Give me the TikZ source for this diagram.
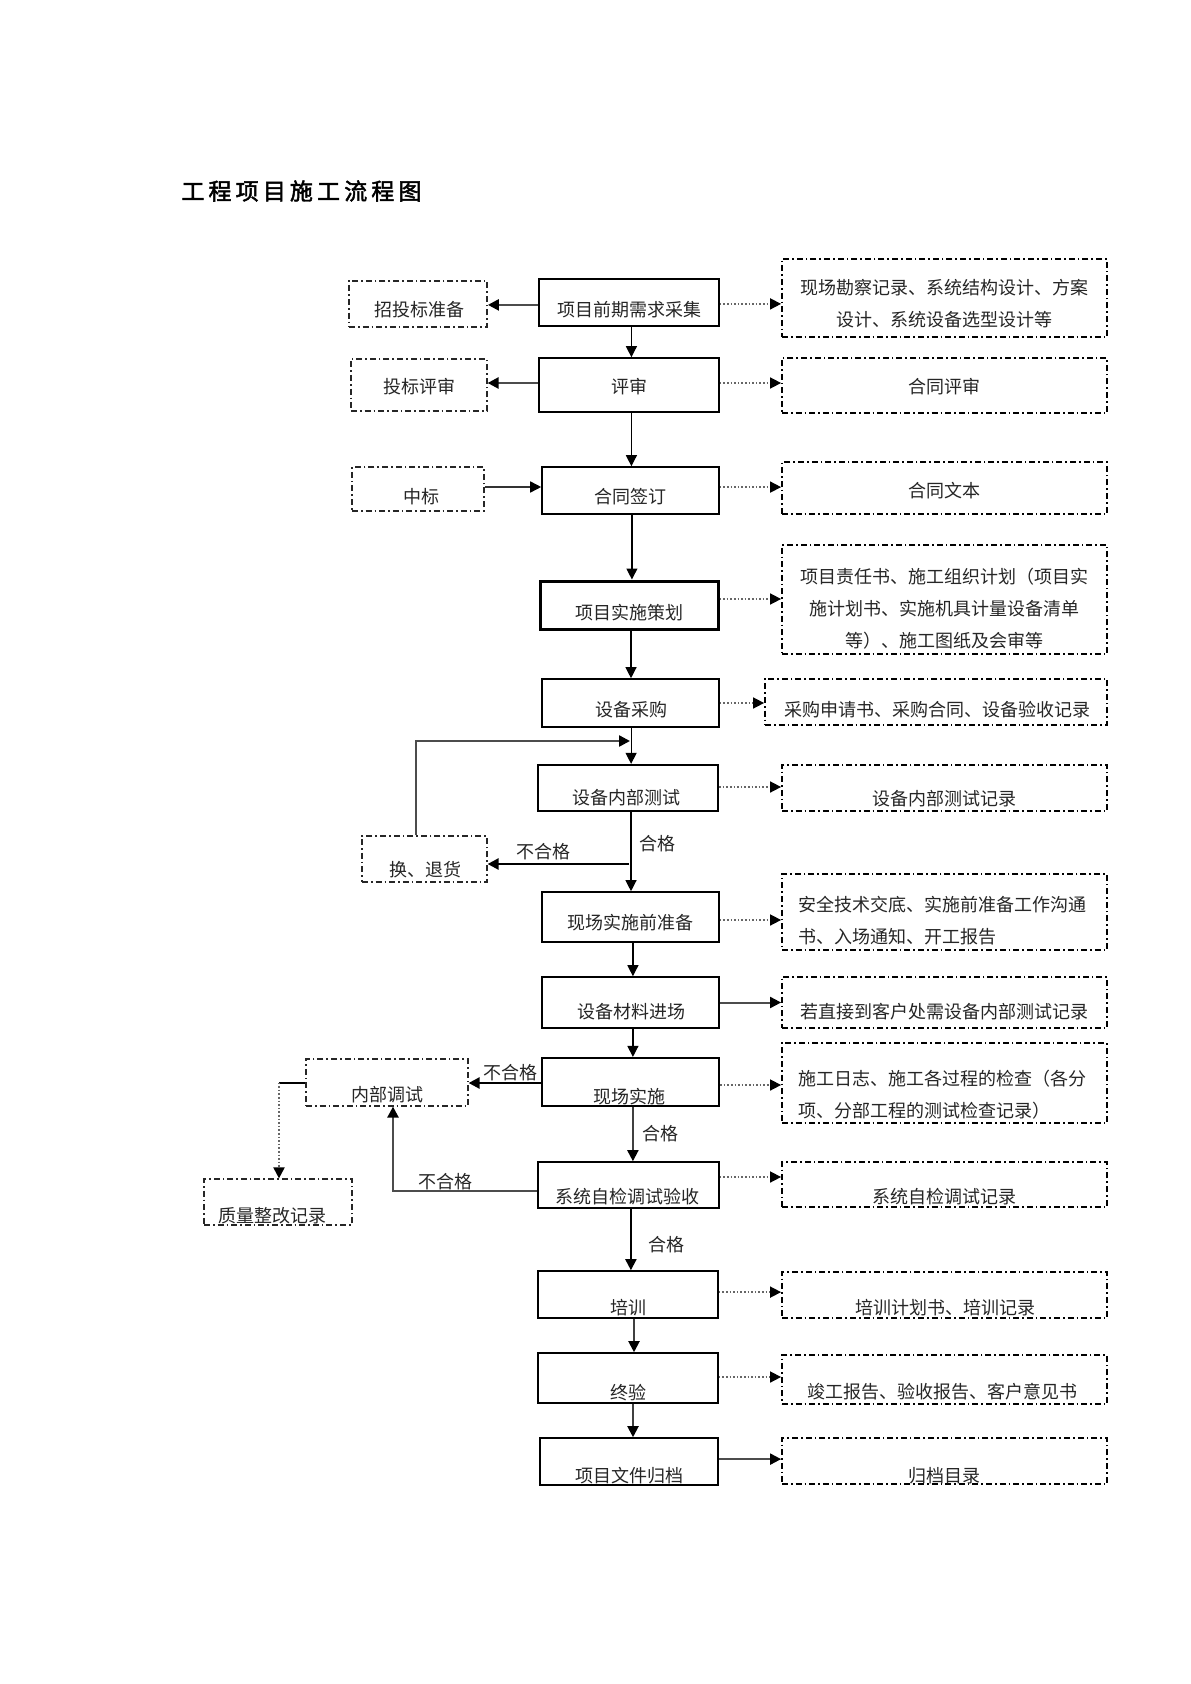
\documentclass[tikz,border=0pt]{standalone}
\usepackage{fontspec}
\newfontfamily\cjk{Noto Sans CJK SC}
\newfontfamily\cjktitle[FakeBold=2,LetterSpace=18]{Noto Sans CJK SC}
\usetikzlibrary{arrows.meta}
\tikzset{
  x=0.5pt, y=-0.5pt,
  txt/.style={font=\cjk\fontsize{9pt}{16pt}\selectfont, inner sep=0pt, text=black!85},
  mainbox/.style={draw=black, line width=0.8pt, inner sep=0pt},
  thickbox/.style={draw=black, line width=1.5pt, inner sep=0pt},
  rbox/.style={draw=black, line width=0.9pt, inner sep=0pt, dash pattern=on 3pt off 1.5pt on 0.8pt off 1.5pt},
  lbox/.style={draw=black!85, line width=0.6pt, inner sep=0pt, dash pattern=on 3pt off 1.5pt on 0.8pt off 1.5pt},
  tip/.style={-{Triangle[length=5.5pt,width=5.5pt,color=black,fill=black]}},
  varrow/.style={tip, draw=black, line width=0.6pt},
  larrow/.style={tip, draw=black!70, line width=1.2pt},
  lline/.style={draw=black, line width=1pt},
  rarrow/.style={tip, draw=black!60, line width=0.8pt, densely dotted},
  rsolid/.style={tip, draw=black!70, line width=1pt},
}
\begin{document}
\begin{tikzpicture}
\useasboundingbox[fill=white] (0,0) rectangle (1190,1684);

% title
\node[anchor=west, inner sep=0pt, font=\cjktitle\fontsize{11.5pt}{13pt}\selectfont] (title) at (181,191) {工程项目施工流程图};

% ---------- main column ----------
\node[mainbox, minimum width=90pt, minimum height=23.5pt] (m1) at (629,302.5) {};
\node[txt] (t1) at (629,310) {项目前期需求采集};
\node[mainbox, minimum width=90pt, minimum height=27pt] (m2) at (629,385) {};
\node[txt] (t2) at (629,387) {评审};
\node[mainbox, minimum width=88.5pt, minimum height=23.5pt] (m3) at (630.5,490.5) {};
\node[txt] (t3) at (630,497) {合同签订};
\node[thickbox, minimum width=89pt, minimum height=24pt] (m4) at (629,605) {};
\node[txt] (t4) at (629,613) {项目实施策划};
\node[mainbox, minimum width=88.5pt, minimum height=24pt] (m5) at (630.5,703) {};
\node[txt] (t5) at (631,710) {设备采购};
\node[mainbox, line width=1.1pt, minimum width=90pt, minimum height=23pt] (m6) at (628,788) {};
\node[txt] (t6) at (626,798) {设备内部测试};
\node[mainbox, minimum width=88.5pt, minimum height=25pt] (m7) at (630.5,917) {};
\node[txt] (t7) at (630,923) {现场实施前准备};
\node[mainbox, minimum width=88.5pt, minimum height=25.5pt] (m8) at (630.5,1002.5) {};
\node[txt] (t8) at (631,1012) {设备材料进场};
\node[mainbox, line width=1.1pt, minimum width=88.5pt, minimum height=24pt] (m9) at (630.5,1082) {};
\node[txt] (t9) at (629,1097) {现场实施};
\node[mainbox, minimum width=90.5pt, minimum height=23pt] (m10) at (628.5,1185) {};
\node[txt] (t10) at (627,1197) {系统自检调试验收};
\node[mainbox, minimum width=90pt, minimum height=23.5pt] (m11) at (628,1294.5) {};
\node[txt] (t11) at (628,1308) {培训};
\node[mainbox, minimum width=90pt, minimum height=25pt] (m12) at (628,1378) {};
\node[txt] (t12) at (628,1393) {终验};
\node[mainbox, minimum width=89pt, minimum height=23.5pt] (m13) at (629,1461.5) {};
\node[txt] (t13) at (629,1476) {项目文件归档};

% ---------- right column ----------
\node[rbox, minimum width=162.5pt, minimum height=39pt] (r1) at (944.5,298) {};
\node[txt, align=center] (s1) at (944.5,304) {现场勘察记录、系统结构设计、方案\\设计、系统设备选型设计等};
\node[rbox, minimum width=162.5pt, minimum height=27.5pt] (r2) at (944.5,385.5) {};
\node[txt] (s2) at (944.5,387) {合同评审};
\node[rbox, minimum width=162.5pt, minimum height=26pt] (r3) at (944.5,488) {};
\node[txt] (s3) at (944.5,491) {合同文本};
\node[rbox, minimum width=162.5pt, minimum height=54.5pt] (r4) at (944.5,599.5) {};
\node[txt, align=center] (s4) at (944.5,608.5) {项目责任书、施工组织计划（项目实\\施计划书、实施机具计量设备清单\\等）、施工图纸及会审等};
\node[rbox, minimum width=171pt, minimum height=23pt] (r5) at (936,702) {};
\node[txt] (s5) at (937,710) {采购申请书、采购合同、设备验收记录};
\node[rbox, minimum width=162.5pt, minimum height=23pt] (r6) at (944.5,788) {};
\node[txt] (s6) at (944,799) {设备内部测试记录};
\node[rbox, minimum width=162.5pt, minimum height=38pt] (r7) at (944.5,912) {};
\node[txt, align=left] (s7) at (942,921) {安全技术交底、实施前准备工作沟通\\书、入场通知、开工报告};
\node[rbox, minimum width=162.5pt, minimum height=25.5pt] (r8) at (944.5,1002.5) {};
\node[txt] (s8) at (944,1012) {若直接到客户处需设备内部测试记录};
\node[rbox, minimum width=162.5pt, minimum height=40pt] (r9) at (944.5,1083) {};
\node[txt, align=left] (s9) at (942,1095) {施工日志、施工各过程的检查（各分\\项、分部工程的测试检查记录）};
\node[rbox, minimum width=162.5pt, minimum height=22.5pt] (r10) at (944.5,1184.5) {};
\node[txt] (s10) at (944,1197) {系统自检调试记录};
\node[rbox, minimum width=162.5pt, minimum height=23pt] (r11) at (944.5,1295) {};
\node[txt] (s11) at (945,1308) {培训计划书、培训记录};
\node[rbox, minimum width=162.5pt, minimum height=24.5pt] (r12) at (944.5,1379.5) {};
\node[txt] (s12) at (942,1392) {竣工报告、验收报告、客户意见书};
\node[rbox, minimum width=162.5pt, minimum height=23pt] (r13) at (944.5,1461) {};
\node[txt] (s13) at (944,1476) {归档目录};

% ---------- left column ----------
\node[lbox, line width=0.9pt, minimum width=69pt, minimum height=23pt] (l1) at (418,304) {};
\node[txt] (u1) at (419,310) {招投标准备};
\node[lbox, minimum width=68pt, minimum height=26pt] (l2) at (419,385) {};
\node[txt] (u2) at (419,387) {投标评审};
\node[lbox, minimum width=66pt, minimum height=22pt] (l3) at (418,489) {};
\node[txt] (u3) at (421,497) {中标};
\node[lbox, minimum width=62.5pt, minimum height=23pt] (l4) at (424.5,859) {};
\node[txt] (u4) at (425,870) {换、退货};
\node[lbox, minimum width=81pt, minimum height=23.5pt] (l5) at (387,1082.5) {};
\node[txt] (u5) at (387,1095) {内部调试};
\node[lbox, minimum width=74pt, minimum height=23pt] (l6) at (278,1202) {};
\node[txt] (u6) at (272,1216) {质量整改记录};

% ---------- main vertical arrows ----------
\draw[varrow] ([xshift=1.2pt]m1.south) -- ([xshift=1.2pt]m1.south |- m2.north);
\draw[varrow] ([xshift=1.2pt]m2.south) -- ([xshift=1.2pt]m2.south |- m3.north);
\draw[varrow] ([xshift=0.7pt]m3.south) -- ([xshift=0.7pt]m3.south |- m4.north);
\draw[varrow] ([xshift=1pt]m4.south) -- ([xshift=1pt]m4.south |- m5.north);
\draw[varrow] ([xshift=0.3pt]m5.south) -- ([xshift=0.3pt]m5.south |- m6.north);
\draw[varrow] ([xshift=1.5pt]m6.south) -- ([xshift=1.5pt]m6.south |- m7.north);
\draw[varrow] ([xshift=1.2pt]m7.south) -- ([xshift=1.2pt]m7.south |- m8.north);
\draw[varrow] ([xshift=1.2pt]m8.south) -- ([xshift=1.2pt]m8.south |- m9.north);
\draw[varrow, draw=black!75, line width=1pt] ([xshift=1.2pt]m9.south) -- ([xshift=1.2pt]m9.south |- m10.north);
\draw[varrow, line width=1pt] ([xshift=1.2pt]m10.south) -- ([xshift=1.2pt]m10.south |- m11.north);
\draw[varrow, draw=black!75, line width=1pt] ([xshift=3pt]m11.south) -- ([xshift=3pt]m11.south |- m12.north);
\draw[varrow, draw=black!75, line width=1pt] ([xshift=2.5pt]m12.south) -- ([xshift=2.5pt]m12.south |- m13.north);

% ---------- right connectors ----------
\draw[rarrow] ([yshift=-0.7pt]m1.east) -- ([yshift=-0.7pt]m1.east -| r1.west);
\draw[rarrow] ([yshift=1pt]m2.east) -- ([yshift=1pt]m2.east -| r2.west);
\draw[rarrow] ([yshift=1.7pt]m3.east) -- ([yshift=1.7pt]m3.east -| r3.west);
\draw[rarrow] ([yshift=3pt]m4.east) -- ([yshift=3pt]m4.east -| r4.west);
\draw[rarrow] (m5.east) -- (m5.east -| r5.west);
\draw[rarrow] ([yshift=0.5pt]m6.east) -- ([yshift=0.5pt]m6.east -| r6.west);
\draw[rarrow] ([yshift=-1.5pt]m7.east) -- ([yshift=-1.5pt]m7.east -| r7.west);
\draw[rsolid] (m8.east) -- (m8.east -| r8.west);
\draw[rarrow] ([yshift=-1.5pt]m9.east) -- ([yshift=-1.5pt]m9.east -| r9.west);
\draw[rarrow] ([yshift=4pt]m10.east) -- ([yshift=4pt]m10.east -| r10.west);
\draw[rarrow] ([yshift=1.2pt]m11.east) -- ([yshift=1.2pt]m11.east -| r11.west);
\draw[rarrow] ([yshift=0.5pt]m12.east) -- ([yshift=0.5pt]m12.east -| r12.west);
\draw[rsolid] ([yshift=1.2pt]m13.east) -- ([yshift=1.2pt]m13.east -| r13.west);

% ---------- left connectors ----------
\draw[larrow] ([yshift=-1.2pt]m1.west) -- ([yshift=-1.2pt]m1.west -| l1.east);
\draw[larrow] ([yshift=1pt]m2.west) -- ([yshift=1pt]m2.west -| l2.east);
\draw[larrow, draw=black!80, line width=0.8pt] ([yshift=1pt]l3.east) -- ([yshift=1pt]l3.east -| m3.west);

% equipment test failure loop
\coordinate (j1) at (629,864);
\draw[larrow, draw=black] (j1) -- (j1 -| l4.east);
\coordinate (j2) at (630,741);
\draw[larrow] ([xshift=-4.25pt]l4.north) |- (j2);

% on-site implementation failures
\draw[larrow, draw=black] ([yshift=-0.5pt]m9.west) -- ([yshift=-0.5pt]m9.west -| l5.east);
\draw[larrow] ([yshift=-3pt]m10.west) -| ([xshift=3pt]l5.south);
\coordinate (j3) at ([xshift=0.5pt]l6.north |- l5.west);
\draw[lline] ([yshift=-0.3pt]l5.west) -- ([yshift=-0.3pt]j3);
\draw[rarrow, line width=1pt] (j3) -- ([xshift=0.5pt]l6.north);

% ---------- labels ----------
\node[txt] (q1) at (657,844) {合格};
\node[txt] (q2) at (660,1134) {合格};
\node[txt] (q3) at (666,1245) {合格};
\node[txt] (n1) at (543,852) {不合格};
\node[txt] (n2) at (510,1073) {不合格};
\node[txt] (n3) at (445,1182) {不合格};
\end{tikzpicture}
\end{document}
